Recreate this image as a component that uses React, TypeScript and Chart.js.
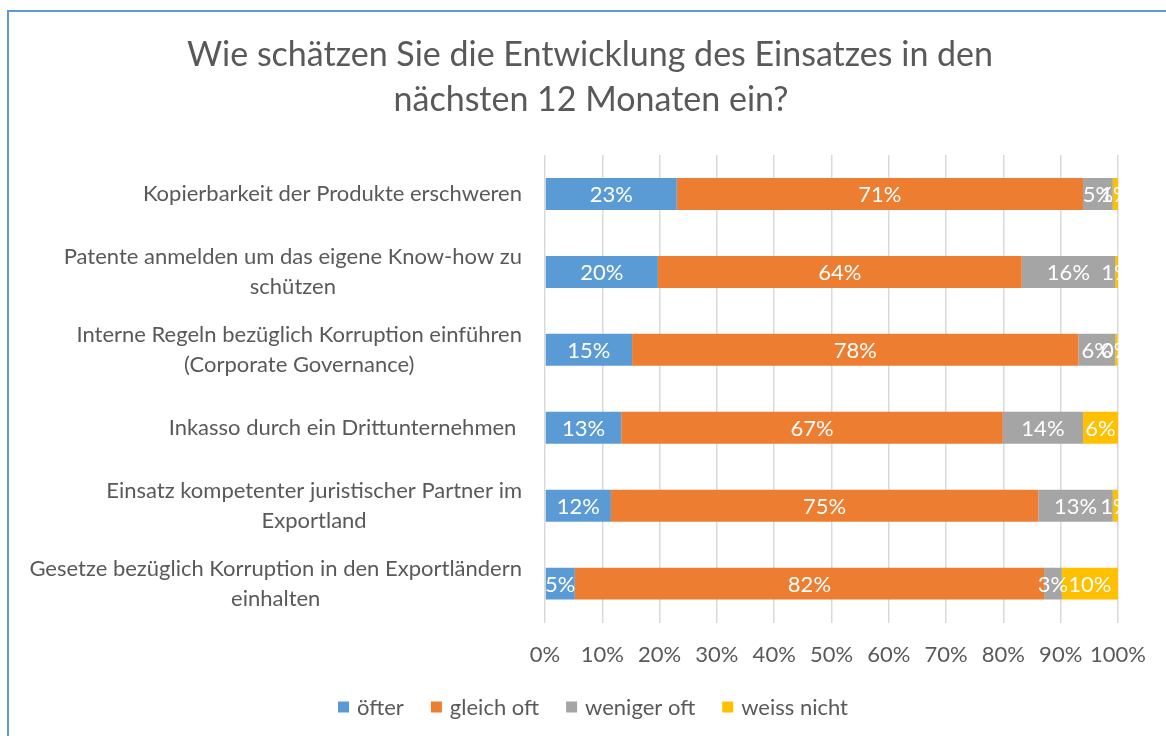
import React, { useEffect, useRef } from "react";
import { Chart, registerables } from "chart.js";

Chart.register(...registerables);

const titleLines = ["Wie schätzen Sie die Entwicklung des Einsatzes in den", "nächsten 12 Monaten ein?"];

const categories: string[][] = [
  ["Kopierbarkeit der Produkte erschweren"],
  ["Patente anmelden um das eigene Know-how zu", "schützen"],
  ["Interne Regeln bezüglich Korruption einführen", "(Corporate Governance)"],
  ["Inkasso durch ein Drittunternehmen "],
  ["Einsatz kompetenter juristischer Partner im", "Exportland"],
  ["Gesetze bezüglich Korruption in den Exportländern", "einhalten"],
];

const seriesNames = ["öfter", "gleich oft", "weniger oft", "weiss nicht"];
const oefter = [23.0, 19.7, 15.2, 13.3, 11.5, 5.2];
const gleichOft = [70.9, 63.5, 77.9, 66.6, 74.6, 81.9];
const wenigerOft = [5.2, 16.3, 6.4, 14.0, 13.0, 3.1];
const weissNicht = [0.9, 0.5, 0.4, 6.1, 0.9, 9.8];
const colors = ["#5B9BD5", "#ED7D31", "#A5A5A5", "#FFC000"];
const xTicks = [0, 10, 20, 30, 40, 50, 60, 70, 80, 90, 100];

const FONT = "Lato, 'Open Sans', sans-serif";
const TEXT = "#595959";
const FS = 22;

const decorPlugin = {
  id: "decor",
  afterDatasetsDraw(chart: any) {
    const ctx = chart.ctx;
    ctx.save();
    ctx.fillStyle = "#FFFFFF";
    ctx.font = `${FS}px ${FONT}`;
    ctx.textAlign = "center";
    ctx.textBaseline = "middle";
    chart.data.datasets.forEach((ds: any, di: number) => {
      const meta = chart.getDatasetMeta(di);
      meta.data.forEach((el: any, i: number) => {
        const v = ds.data[i];
        const cx = (el.x + el.base) / 2;
        ctx.fillText(`${Math.round(v)}%`, cx, el.y + 1);
      });
    });
    ctx.restore();
  },
  afterDraw(chart: any) {
    const ctx = chart.ctx;
    const yScale = chart.scales.y;
    const area = chart.chartArea;
    ctx.save();
    ctx.fillStyle = TEXT;
    // title
    ctx.font = `34px ${FONT}`;
    ctx.textAlign = "center";
    ctx.textBaseline = "middle";
    ctx.fillText(titleLines[0], 590, 55);
    ctx.fillText(titleLines[1], 591, 100);
    // category labels
    ctx.font = `${FS}px ${FONT}`;
    const lh = 30;
    categories.forEach((lines, i) => {
      const cy = yScale.getPixelForValue(i);
      const maxW = Math.max(...lines.map((l) => ctx.measureText(l).width));
      const right = area.left - 23;
      const cx = right - maxW / 2;
      const startY = cy - ((lines.length - 1) * lh) / 2;
      lines.forEach((l, j) => ctx.fillText(l, cx, startY + j * lh));
    });
    // legend
    const box = 11;
    const gapBox = 8;
    const gapItem = 27;
    const widths = seriesNames.map((n) => box + gapBox + ctx.measureText(n).width);
    const total = widths.reduce((a, b) => a + b, 0) + gapItem * (seriesNames.length - 1);
    let x = 593 - total / 2;
    const ly = 707;
    ctx.textAlign = "left";
    seriesNames.forEach((n, i) => {
      ctx.fillStyle = colors[i];
      ctx.fillRect(x, ly - box / 2, box, box);
      ctx.fillStyle = TEXT;
      ctx.fillText(n, x + box + gapBox, ly + 1);
      x += widths[i] + gapItem;
    });
    ctx.restore();
  },
};

export default function App() {
  const ref = useRef<HTMLCanvasElement | null>(null);
  useEffect(() => {
    if (!ref.current) return;
    const values = [oefter, gleichOft, wenigerOft, weissNicht];
    const chart = new Chart(ref.current, {
      type: "bar",
      data: {
        labels: categories.map((c) => c.join(" ")),
        datasets: seriesNames.map((name, i) => ({
          label: name,
          data: values[i],
          backgroundColor: colors[i],
          borderWidth: 0,
          categoryPercentage: 1,
          barPercentage: 0.41,
        })),
      },
      options: {
        indexAxis: "y",
        animation: false,
        responsive: false,
        maintainAspectRatio: false,
        layout: { padding: { left: 545, right: 48, top: 155, bottom: 49 } },
        plugins: {
          legend: { display: false },
          title: { display: false },
          tooltip: { enabled: false },
        },
        scales: {
          x: {
            stacked: true,
            min: 0,
            max: 100,
            afterBuildTicks: (axis: any) => {
              axis.ticks = xTicks.map((v) => ({ value: v }));
            },
            grid: { color: "#D9D9D9", lineWidth: 1.5, drawTicks: false },
            border: { display: false },
            ticks: {
              color: TEXT,
              font: { family: FONT, size: FS },
              padding: 19,
              maxRotation: 0,
              minRotation: 0,
              autoSkip: false,
              callback: (v: any) => `${v}%`,
            },
          },
          y: {
            stacked: true,
            display: false,
          },
        },
      },
      plugins: [decorPlugin],
    });
    return () => chart.destroy();
  }, []);

  return (
    <div style={{ position: "fixed", left: 0, top: 0, width: 1166, height: 736, overflow: "hidden", background: "#fff" }}>
      <div
        style={{
          position: "absolute",
          left: 7,
          top: 10,
          width: 1300,
          height: 900,
          border: "2px solid #5B9BD5",
          boxSizing: "border-box",
        }}
      />
      <canvas ref={ref} width={1166} height={736} style={{ position: "absolute", left: 0, top: 0, width: 1166, height: 736 }} />
    </div>
  );
}
